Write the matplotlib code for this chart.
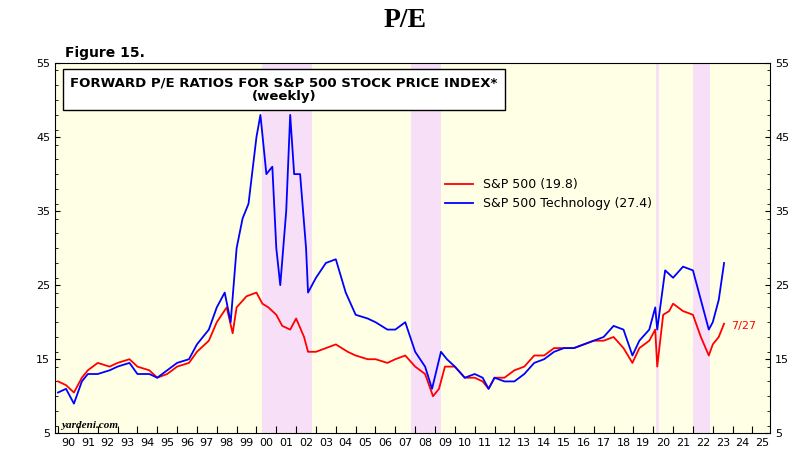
import numpy as np
import matplotlib.pyplot as plt
import matplotlib.ticker as mticker

# S&P 500 forward P/E (decimal years)
spx_t = [1990.0, 1990.4, 1990.8, 1991.2, 1991.5, 1992.0, 1992.6, 1993.0, 1993.6, 1994.0, 1994.6,
         1995.0, 1995.5, 1996.0, 1996.6, 1997.0, 1997.6, 1998.0, 1998.5, 1998.8, 1999.0, 1999.5,
         2000.0, 2000.3, 2000.6, 2001.0, 2001.3, 2001.7, 2002.0, 2002.4, 2002.6, 2003.0, 2003.5,
         2004.0, 2004.6, 2005.0, 2005.6, 2006.0, 2006.6, 2007.0, 2007.5, 2008.0, 2008.5, 2008.9,
         2009.2, 2009.5, 2010.0, 2010.5, 2011.0, 2011.4, 2011.7, 2012.0, 2012.5, 2013.0, 2013.5,
         2014.0, 2014.5, 2015.0, 2015.5, 2016.0, 2016.5, 2017.0, 2017.5, 2018.0, 2018.5, 2018.95,
         2019.3, 2019.8, 2020.1, 2020.2, 2020.5, 2020.8, 2021.0, 2021.5, 2022.0, 2022.4, 2022.8,
         2023.0, 2023.3, 2023.57]
spx_pe = [12.0, 11.5, 10.5, 12.5, 13.5, 14.5, 14.0, 14.5, 15.0, 14.0, 13.5,
          12.5, 13.0, 14.0, 14.5, 16.0, 17.5, 20.0, 22.0, 18.5, 22.0, 23.5,
          24.0, 22.5, 22.0, 21.0, 19.5, 19.0, 20.5, 18.0, 16.0, 16.0, 16.5,
          17.0, 16.0, 15.5, 15.0, 15.0, 14.5, 15.0, 15.5, 14.0, 13.0, 10.0,
          11.0, 14.0, 14.0, 12.5, 12.5, 12.0, 11.0, 12.5, 12.5, 13.5, 14.0,
          15.5, 15.5, 16.5, 16.5, 16.5, 17.0, 17.5, 17.5, 18.0, 16.5, 14.5,
          16.5, 17.5, 19.0, 14.0, 21.0, 21.5, 22.5, 21.5, 21.0, 18.0, 15.5,
          17.0, 18.0, 19.8]

# S&P 500 Technology forward P/E
tech_t = [1990.0, 1990.4, 1990.8, 1991.2, 1991.5, 1992.0, 1992.6, 1993.0, 1993.6, 1994.0, 1994.6,
          1995.0, 1995.5, 1996.0, 1996.6, 1997.0, 1997.6, 1998.0, 1998.4, 1998.7, 1999.0, 1999.3,
          1999.6, 2000.0, 2000.2, 2000.5, 2000.8, 2001.0, 2001.2, 2001.5, 2001.7, 2001.9, 2002.2,
          2002.5, 2002.6, 2003.0, 2003.5, 2004.0, 2004.5, 2005.0, 2005.6, 2006.0, 2006.6, 2007.0,
          2007.5, 2008.0, 2008.5, 2008.85, 2009.3, 2009.6, 2010.0, 2010.5, 2011.0, 2011.4, 2011.7,
          2012.0, 2012.5, 2013.0, 2013.5, 2014.0, 2014.5, 2015.0, 2015.5, 2016.0, 2016.5, 2017.0,
          2017.5, 2018.0, 2018.5, 2018.95, 2019.3, 2019.8, 2020.1, 2020.2, 2020.6, 2021.0, 2021.5,
          2022.0, 2022.4, 2022.8, 2023.0, 2023.3, 2023.57]
tech_pe = [10.5, 11.0, 9.0, 12.0, 13.0, 13.0, 13.5, 14.0, 14.5, 13.0, 13.0,
           12.5, 13.5, 14.5, 15.0, 17.0, 19.0, 22.0, 24.0, 20.0, 30.0, 34.0,
           36.0, 45.0, 48.0, 40.0, 41.0, 30.0, 25.0, 35.0, 48.0, 40.0, 40.0,
           30.0, 24.0, 26.0, 28.0, 28.5, 24.0, 21.0, 20.5, 20.0, 19.0, 19.0,
           20.0, 16.0, 14.0, 11.0, 16.0, 15.0, 14.0, 12.5, 13.0, 12.5, 11.0,
           12.5, 12.0, 12.0, 13.0, 14.5, 15.0, 16.0, 16.5, 16.5, 17.0, 17.5,
           18.0, 19.5, 19.0, 15.5, 17.5, 19.0, 22.0, 19.0, 27.0, 26.0, 27.5,
           27.0, 23.0, 19.0, 20.0, 23.0, 28.0]

# shaded periods
shades = [(2000.3, 2002.8), (2007.8, 2009.3), (2020.15, 2020.3), (2022.0, 2022.85)]
years = list(range(1990, 2027))

fig = plt.figure(figsize=(8.1, 4.57), dpi=100)
ax = fig.add_axes([0.068, 0.052, 0.883, 0.81])
ax.set_facecolor('#ffffe6')
for a, b in shades:
    ax.axvspan(a, b, color='#f7e0f7', lw=0)

ax.plot(spx_t, spx_pe, color='red', lw=1.3, label='S&P 500 (19.8)')
ax.plot(tech_t, tech_pe, color='blue', lw=1.3, label='S&P 500 Technology (27.4)')

ax.set_xlim(1989.85, 2025.9)
ax.set_ylim(5, 55)
ax.set_yticks(range(5, 56, 10))
ax.yaxis.set_minor_locator(mticker.MultipleLocator(2))
ax.tick_params(axis='y', which='both', direction='in', right=True, labelright=True, labelsize=8)
ax.set_xticks(years[:-1])
ax.set_xticks([y + 0.5 for y in years[:-1]], minor=True)
ax.set_xticklabels([])
ax.set_xticklabels([f'{y % 100:02d}' for y in years[:-1]], minor=True)
ax.tick_params(axis='x', which='major', direction='in', length=5)
ax.tick_params(axis='x', which='minor', length=0, labelsize=8)

ax.legend(loc='upper left', bbox_to_anchor=(0.53, 0.72), frameon=False, fontsize=9,
          handlelength=2.2)
ax.text(0.32, 0.965, 'FORWARD P/E RATIOS FOR S&P 500 STOCK PRICE INDEX*\n(weekly)',
        transform=ax.transAxes, ha='center', va='top', fontsize=9.5, fontweight='bold',
        multialignment='center',
        bbox=dict(facecolor='white', edgecolor='black', pad=5), linespacing=1.1)
ax.text(2023.9, 19.5, '7/27', color='red', fontsize=8, va='center')
ax.text(0.008, 0.015, 'yardeni.com', transform=ax.transAxes, fontsize=8,
        fontweight='bold', style='italic', family='Liberation Serif')

fig.text(0.5, 0.955, 'P/E', ha='center', va='center', fontsize=20, fontweight='bold',
         family='Liberation Serif')
fig.text(0.08, 0.885, 'Figure 15.', fontsize=10, fontweight='bold', va='center')

fig.savefig('out.png', dpi=100)
